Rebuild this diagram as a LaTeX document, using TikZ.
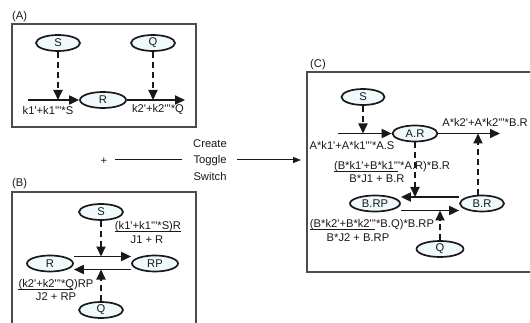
\documentclass[tikz,border=0pt]{standalone}
\usepackage{fontspec}
\newfontfamily\lsf{Liberation Sans}[Ligatures=TeXOff]
\usetikzlibrary{shapes.geometric,arrows.meta,calc}
\definecolor{efill}{RGB}{240,249,251}
\definecolor{ink}{RGB}{25,25,25}
\begin{document}
\begin{tikzpicture}[x=1pt,y=-1pt,
  every node/.style={font=\lsf\fontsize{11.2}{13}\selectfont, inner sep=0pt, text=ink},
  spec/.style={ellipse, draw=ink, line width=1.7pt, minimum width=44pt, minimum height=16pt, fill=efill},
  flow/.style={draw=ink, line width=1.8pt, -{Triangle[length=10pt,width=9pt]}},
  modif/.style={draw=ink, line width=1.8pt, dash pattern=on 6pt off 4pt, -{Triangle[length=10pt,width=9pt]}},
  panel/.style={draw=black!70, line width=1.1pt},
  uline/.style={draw=ink, line width=0.9pt},
  plab/.style={anchor=west}]
\clip (0,0) rectangle (530,323);
\fill[white] (0,0) rectangle (530,323);

% ---------- Panel A ----------
\draw[panel] (12,24) rectangle (196,127);
\node[plab] (labA) at (12,17) {(A)};
\node[spec] (SA) at (58,43) {S};
\node[spec] (QA) at (153,43) {Q};
\node[spec, minimum width=46pt] (RA) at (103,100) {R};
\coordinate (inA) at (28,100);
\coordinate (outA) at (185,100);
\draw[flow] (inA) -- (RA.west);
\draw[flow] (RA.east) -- (outA);
\draw[modif] (SA.south) -- (SA.south |- inA);
\draw[modif] (QA.south) -- (QA.south |- outA);
\node (kA1) at (48,110) {k1'+k1'''*S};
\node (kA2) at (158,110) {k2'+k2'''*Q};

% ---------- middle ----------
\node (plus) at (104,161) {+};
\node[align=center, font=\lsf\fontsize{11.2}{16.5}\selectfont] (cts) at (210,160) {Create\\Toggle\\Switch};
\coordinate (l1) at (115,160);
\coordinate (l2) at (182,160);
\coordinate (r1) at (237,160);
\coordinate (r2) at (301,160);
\draw[draw=ink, line width=1pt] (l1) -- (l2);
\draw[draw=ink, line width=1pt, -{Triangle[length=8pt,width=6pt]}] (r1) -- (r2);

% ---------- Panel B ----------
\draw[panel] (12,340) -- (12,192) -- (196,192) -- (196,340);
\node[plab] (labB) at (12,184) {(B)};
\node[spec] (SB) at (101,212) {S};
\node[spec, minimum width=46pt] (RB) at (50,263.5) {R};
\node[spec, minimum width=46pt] (RPB) at (155,263.5) {RP};
\node[spec] (QB) at (101,310) {Q};
\draw[flow] ([yshift=7pt]RB.east) -- ([yshift=7pt]RPB.west);
\draw[flow] ([yshift=-6pt]RPB.west) -- ([yshift=-6pt]RB.east);
\coordinate (bt) at (0,256.5);
\coordinate (bb) at (0,269.5);
\draw[modif] (SB.south) -- (SB.south |- bt);
\draw[modif] (QB.north) -- (QB.north |- bb);
\node (n1) at (148,227) {(k1'+k1'''*S)R};
\node (d1) at (147,240) {J1 + R};
\draw[uline] ([yshift=1pt]n1.south west) -- ([yshift=1pt]n1.south east);
\node (n2) at (56,285) {(k2'+k2'''*Q)RP};
\node (d2) at (56,297) {J2 + RP};
\draw[uline] ([yshift=1pt]n2.south west) -- ++(55,0);

% ---------- Panel C ----------
\draw[panel] (532,72) -- (307,72) -- (307,272) -- (532,272);
\node[plab] (labC) at (310,65) {(C)};
\node[spec, minimum width=43pt] (SC) at (363,97) {S};
\node[spec, minimum width=45pt] (ARC) at (415,133.5) {A.R};
\coordinate (inC) at (338,133.5);
\coordinate (outC) at (500,133.5);
\draw[flow] (inC) -- (ARC.west);
\draw[flow] (ARC.east) -- (outC);
\draw[modif] (SC.south) -- (SC.south |- inC);
\node (kc1) at (352,145) {A*k1'+A*k1'''*A.S};
\node (kc2) at (485,122) {A*k2'+A*k2'''*B.R};
\node[spec, minimum width=50pt] (BRP) at (375,203.5) {B.RP};
\node[spec, minimum width=44pt] (BR) at (482,203.5) {B.R};
\node[spec, minimum width=47pt] (QC) at (440,249) {Q};
\draw[flow] ([yshift=6.5pt]BR.west) -- ([yshift=6.5pt]BRP.east);
\draw[flow] ([yshift=-7pt]BRP.east) -- ([yshift=-7pt]BR.west);
\node (n3) at (392,167) {(B*k1'+B*k1'''*A.R)*B.R};
\node (d3) at (377,179) {B*J1 + B.R};
\draw[uline] ([yshift=1pt]n3.south west) -- ++(64,0);
\node (n4) at (372,225) {(B*k2'+B*k2'''*B.Q)*B.RP};
\node (d4) at (358,238) {B*J2 + B.RP};
\draw[uline] ([yshift=1pt]n4.south west) -- ++(65,0);
\coordinate (ct) at (0,197);
\coordinate (cb) at (0,210.5);
\draw[modif] (ARC.south) -- (ARC.south |- ct);
\draw[modif] ([xshift=-4pt]BR.north) -- ([xshift=-4pt]BR.north |- outC);
\draw[modif] (QC.north) -- (QC.north |- cb);
\end{tikzpicture}
\end{document}
